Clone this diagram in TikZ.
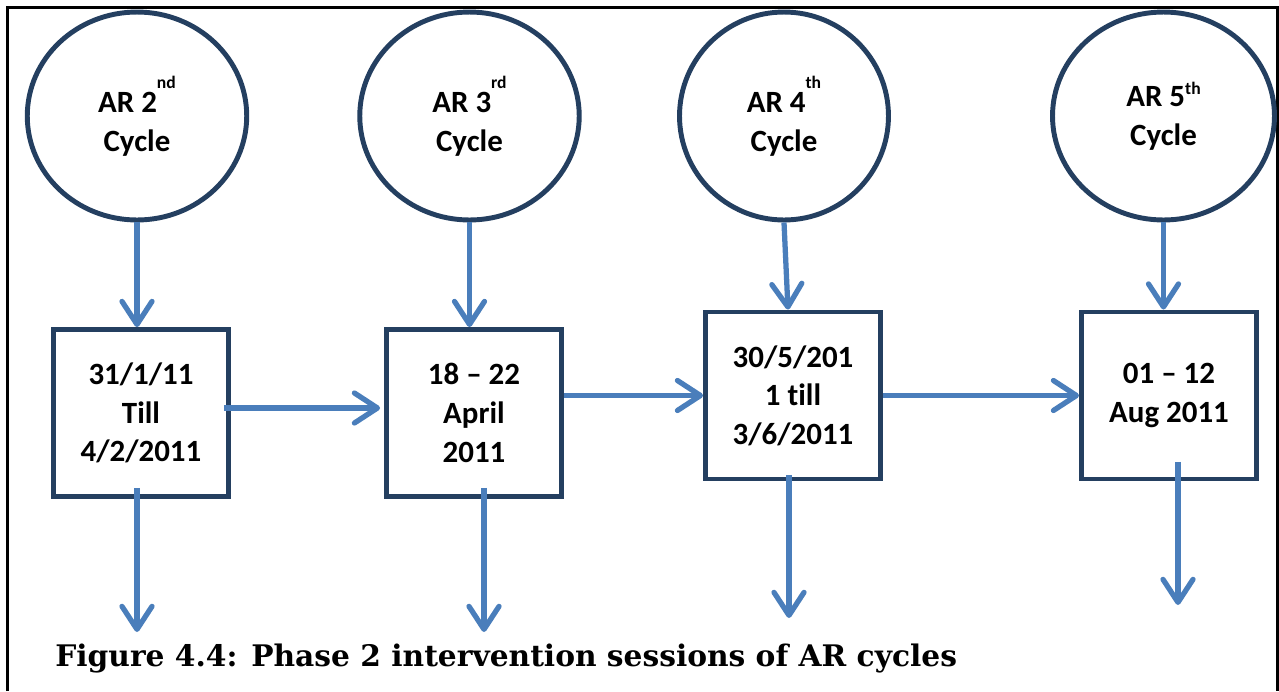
\documentclass[tikz,border=0pt]{standalone}
\usepackage{fontspec}
\setmainfont{Carlito}[Ligatures=NoCommon]
\newfontfamily\captionfont{DejaVu Serif}
\usetikzlibrary{arrows.meta, shapes.geometric, positioning}
\definecolor{navy}{HTML}{243F60}
\definecolor{arrowblue}{HTML}{4A7EBB}
\newcommand{\arsup}[2]{\raisebox{#1}{\fontsize{10}{10}\selectfont #2}}

\begin{document}
\begin{tikzpicture}[
    x=0.02cm, y=-0.02cm,
    arcycle/.style={ellipse, draw=navy, line width=2.8pt, minimum width=4.39cm, minimum height=4.16cm, inner sep=0pt, align=center, font=\bfseries\fontsize{17.6}{22}\selectfont},
    session/.style={rectangle, draw=navy, line width=2.8pt, minimum width=3.5cm, minimum height=3.34cm, align=center, font=\bfseries\fontsize{17.6}{22}\selectfont},
    arrow/.style={draw=arrowblue, line width=3pt, -{Straight Barb[length=4.6mm, width=6mm, round]}},
    frame/.style={draw=black, line width=1.4pt}
]
    \useasboundingbox (0,0) rectangle (1279,691);
    \draw[frame] (7.5,691) |- (1277.5,7.5) -- (1277.5,691);

    \node[arcycle] (ar2) at (137,116) {AR 2\arsup{13.6pt}{nd}\\Cycle};
    \node[arcycle] (ar3) at (469.5,116) {AR 3\arsup{13.6pt}{rd}\\Cycle};
    \node[arcycle, minimum width=4.18cm] (ar4) at (784,116) {AR 4\arsup{13.6pt}{th}\\Cycle};
    \node[arcycle, minimum width=4.44cm] (ar5) at (1163.5,116) {AR 5\arsup{6.8pt}{th}\\Cycle};

    \node[session] (janfeb) at (141,413) {31/1/11\\Till\\4/2/2011};
    \node[session] (april) at (474,413) {18 – 22\\April\\2011};
    \node[session] (mayjun) at (793,395.5) {30/5/201\\1 till\\3/6/2011};
    \node[session] (august) at (1169,395.5) {01 – 12\\Aug 2011};

    \node[anchor=base west, inner sep=0pt, font=\captionfont\bfseries\fontsize{16.9}{20}\selectfont] (caption) at (55,666) {Figure 4.4: Phase 2 intervention sessions of AR cycles};

    \coordinate (janout) at (137,632);
    \coordinate (aprout) at (484,632);
    \coordinate (mayout) at (789,618);
    \coordinate (augout) at (1178,605);

    \draw[arrow] (ar2.south) -- (ar2.south |- janfeb.north);
    \draw[arrow] (ar3.south) -- (ar3.south |- april.north);
    \draw[arrow] (ar4.south) -- ([xshift=-0.1cm]mayjun.north);
    \draw[arrow] (ar5.south) -- (ar5.south |- august.north);

    \draw[arrow] ([xshift=-0.14cm, yshift=0.1cm]janfeb.east) -- ([xshift=-0.08cm, yshift=0.1cm]april.west);
    \draw[arrow] (april.east |- mayjun.west) -- (mayjun.west);
    \draw[arrow] (mayjun.east) -- (august.west);

    \draw[arrow] ([yshift=0.22cm]janfeb.south -| janout) -- (janout);
    \draw[arrow] ([yshift=0.22cm]april.south -| aprout) -- (aprout);
    \draw[arrow] ([yshift=0.13cm]mayjun.south -| mayout) -- (mayout);
    \draw[arrow] ([yshift=0.39cm]august.south -| augout) -- (augout);
\end{tikzpicture}
\end{document}
